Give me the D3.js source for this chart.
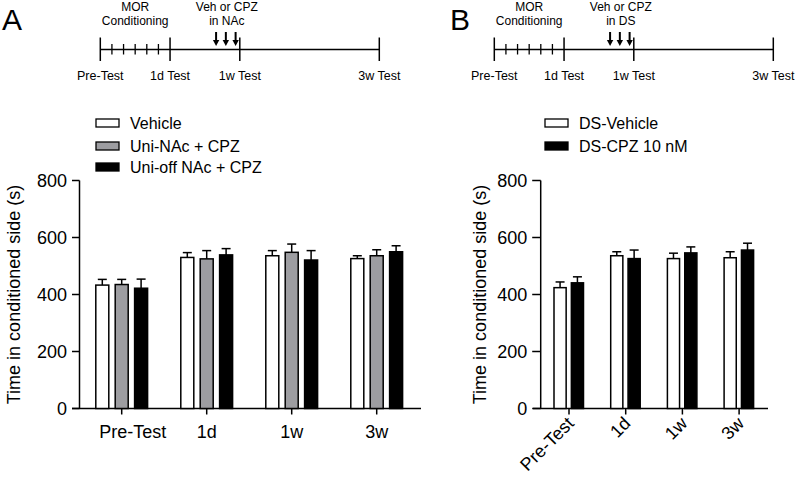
<!DOCTYPE html>
<html><head><meta charset="utf-8">
<script src="https://cdn.jsdelivr.net/npm/d3@7"></script>
<style>
html,body{margin:0;padding:0;background:#fff;}
svg{display:block;font-family:"Liberation Sans",Arial,sans-serif;}
</style></head>
<body><svg id="c" width="797" height="483"></svg>
<script>
// ---------- data ----------
const categories = ["Pre-Test", "1d", "1w", "3w"];
const yTicks = [0, 200, 400, 600, 800];
const yLabel = "Time in conditioned side (s)";

const seriesA = ["Vehicle", "Uni-NAc + CPZ", "Uni-off NAc + CPZ"];
const vehicleA = [433, 530, 536, 526];
const vehicleAErr = [20, 17, 18, 10];
const uniNAcA = [435, 525, 548, 536];
const uniNAcAErr = [18, 29, 29, 21];
const uniOffA = [422, 539, 521, 550];
const uniOffAErr = [32, 22, 33, 21];

const seriesB = ["DS-Vehicle", "DS-CPZ 10 nM"];
const dsVehicle = [424, 536, 526, 529];
const dsVehicleErr = [20, 14, 19, 21];
const dsCpz = [441, 526, 546, 556];
const dsCpzErr = [21, 30, 21, 24];

const timelineLabels = ["Pre-Test", "1d Test", "1w Test", "3w Test"];
const timelinePos = [0, 1, 2, 4];
const conditioningTicks = [1/6, 2/6, 3/6, 4/6, 5/6];
const arrowPos = [1.66, 1.80, 1.94];
const condLines = ["MOR", "Conditioning"];
const treatLinesA = ["Veh or CPZ", "in NAc"];
const treatLinesB = ["Veh or CPZ", "in DS"];

// ---------- drawing ----------
const svg = d3.select("#c");
const fills = {white: "#ffffff", gray: "#9d9da1", black: "#000000"};

function twoLine(g, x, lines) {
  lines.forEach((l, i) => g.append("text").attr("x", x).attr("y", 11.3 + i * 13.9)
    .attr("text-anchor", "middle").attr("font-size", 12).text(l));
}

function timeline(g, x0, x1, treatLines) {
  const t = d3.scaleLinear().domain([0, 4]).range([x0, x1]);
  const ly = 49.5;
  g.append("line").attr("x1", t(0)).attr("x2", t(4)).attr("y1", ly).attr("y2", ly)
    .attr("stroke", "#000").attr("stroke-width", 1.5);
  g.selectAll(".big").data(timelinePos).join("line")
    .attr("x1", d => t(d)).attr("x2", d => t(d)).attr("y1", 37.5).attr("y2", 61)
    .attr("stroke", "#000").attr("stroke-width", 1.5);
  g.selectAll(".small").data(conditioningTicks).join("line")
    .attr("x1", d => t(d)).attr("x2", d => t(d)).attr("y1", 44).attr("y2", 54.5)
    .attr("stroke", "#000").attr("stroke-width", 1.3);
  g.selectAll(".lab").data(timelineLabels).join("text")
    .attr("x", (d, i) => t(timelinePos[i])).attr("y", 79.5)
    .attr("text-anchor", "middle").attr("font-size", 12.5).text(d => d);
  twoLine(g, t(0.5), condLines);
  twoLine(g, t(d3.mean(arrowPos)) + 1, treatLines);
  arrowPos.forEach(a => {
    const x = t(a);
    g.append("line").attr("x1", x).attr("x2", x).attr("y1", 32).attr("y2", 41)
      .attr("stroke", "#000").attr("stroke-width", 2);
    g.append("path").attr("d", `M${x-3.2},40 L${x+3.2},40 L${x},46 Z`).attr("fill", "#000");
  });
}

function barChart(opt) {
  const g = svg.append("g");
  const y = d3.scaleLinear().domain([0, 800]).range([408.5, 180.5]);
  const x = d3.scaleBand().domain(categories).range(opt.xRange).paddingInner(0).paddingOuter(0);
  const xs = d3.scaleBand().domain(opt.series.map((s, i) => i)).range(opt.subRange).paddingInner(opt.subPad);
  // y axis
  g.append("line").attr("x1", opt.axisX).attr("x2", opt.axisX).attr("y1", y(800)).attr("y2", y(0))
    .attr("stroke", "#000").attr("stroke-width", 1.5);
  g.selectAll(".yt").data(yTicks).join("line")
    .attr("x1", opt.axisX - opt.tickLen).attr("x2", opt.axisX).attr("y1", d => y(d)).attr("y2", d => y(d))
    .attr("stroke", "#000").attr("stroke-width", 1.5);
  g.selectAll(".yl").data(yTicks).join("text")
    .attr("x", opt.axisX - opt.tickLen - 5).attr("y", d => y(d)).attr("dy", "0.36em")
    .attr("text-anchor", "end").attr("font-size", 18).text(d => d);
  g.append("text").attr("transform", `translate(${opt.yLabelX},${(y(0) + y(800)) / 2}) rotate(-90)`)
    .attr("text-anchor", "middle").attr("dy", "0.35em").attr("font-size", 18).text(yLabel);
  // x axis
  g.append("line").attr("x1", opt.xAxisStart).attr("x2", opt.xAxisEnd).attr("y1", y(0)).attr("y2", y(0))
    .attr("stroke", "#000").attr("stroke-width", 1.5);
  g.selectAll(".xt").data(categories).join("line")
    .attr("x1", d => x(d) + x.bandwidth() / 2).attr("x2", d => x(d) + x.bandwidth() / 2)
    .attr("y1", y(0)).attr("y2", y(0) + 6).attr("stroke", "#000").attr("stroke-width", 1.5);
  if (opt.rotate) {
    g.selectAll(".xl").data(categories).join("text")
      .attr("transform", d => `translate(${x(d) + x.bandwidth() / 2 + 6},${y(0) + 16}) rotate(-45)`)
      .attr("text-anchor", "end").attr("font-size", 18).text(d => d);
  } else {
    g.selectAll(".xl").data(categories).join("text")
      .attr("x", (d, i) => x(d) + x.bandwidth() / 2 + (i === 0 ? 11 : 0)).attr("y", y(0) + 29)
      .attr("text-anchor", "middle").attr("font-size", 18).text(d => d);
  }
  // bars
  opt.series.forEach((s, si) => {
    const vals = opt.values[si], errs = opt.errors[si];
    const gg = g.append("g");
    categories.forEach((c, ci) => {
      const cx = x(c) + x.bandwidth() / 2 + xs(si);
      const bw = xs.bandwidth();
      const top = y(vals[ci] + errs[ci]);
      const mid = cx + bw / 2;
      gg.append("line").attr("x1", mid).attr("x2", mid).attr("y1", y(vals[ci])).attr("y2", top)
        .attr("stroke", "#000").attr("stroke-width", 1.5);
      gg.append("line").attr("x1", mid - 4.5).attr("x2", mid + 4.5).attr("y1", top).attr("y2", top)
        .attr("stroke", "#000").attr("stroke-width", 1.5);
      gg.append("rect").attr("x", cx).attr("y", y(vals[ci])).attr("width", bw)
        .attr("height", y(0) - y(vals[ci]))
        .attr("fill", fills[opt.colors[si]]).attr("stroke", "#000").attr("stroke-width", 1.5);
    });
  });
  // legend
  opt.series.forEach((s, si) => {
    const ly = opt.legendY[si];
    g.append("rect").attr("x", opt.legendX).attr("y", ly - 4).attr("width", 23).attr("height", 8)
      .attr("fill", fills[opt.colors[si]]).attr("stroke", "#000").attr("stroke-width", 1.3);
    g.append("text").attr("x", opt.legendX + 34).attr("y", ly).attr("dy", "0.36em")
      .attr("font-size", 16).text(s);
  });
}

// panel letters
svg.append("text").attr("x", 2).attr("y", 29.5).attr("font-size", 30).text("A");
svg.append("text").attr("x", 450).attr("y", 29.5).attr("font-size", 30).text("B");

timeline(svg.append("g"), 100.3, 379.3, treatLinesA);
timeline(svg.append("g"), 494.3, 773.3, treatLinesB);

barChart({
  series: seriesA, values: [vehicleA, uniNAcA, uniOffA], errors: [vehicleAErr, uniNAcAErr, uniOffAErr],
  colors: ["white", "gray", "black"],
  xRange: [79.2, 419.2], subRange: [-25.9, 25.9], subPad: 0.33,
  axisX: 79.5, tickLen: 7.5, yLabelX: 14, xAxisStart: 72, xAxisEnd: 421,
  legendX: 96, legendY: [123, 146, 167], rotate: false
});

barChart({
  series: seriesB, values: [dsVehicle, dsCpz], errors: [dsVehicleErr, dsCpzErr],
  colors: ["white", "black"],
  xRange: [540.65, 767.45], subRange: [-15, 14.5], subPad: 0.3,
  axisX: 540.7, tickLen: 8.5, yLabelX: 480, xAxisStart: 533, xAxisEnd: 768,
  legendX: 545, legendY: [123, 146], rotate: true
});
</script></body></html>
